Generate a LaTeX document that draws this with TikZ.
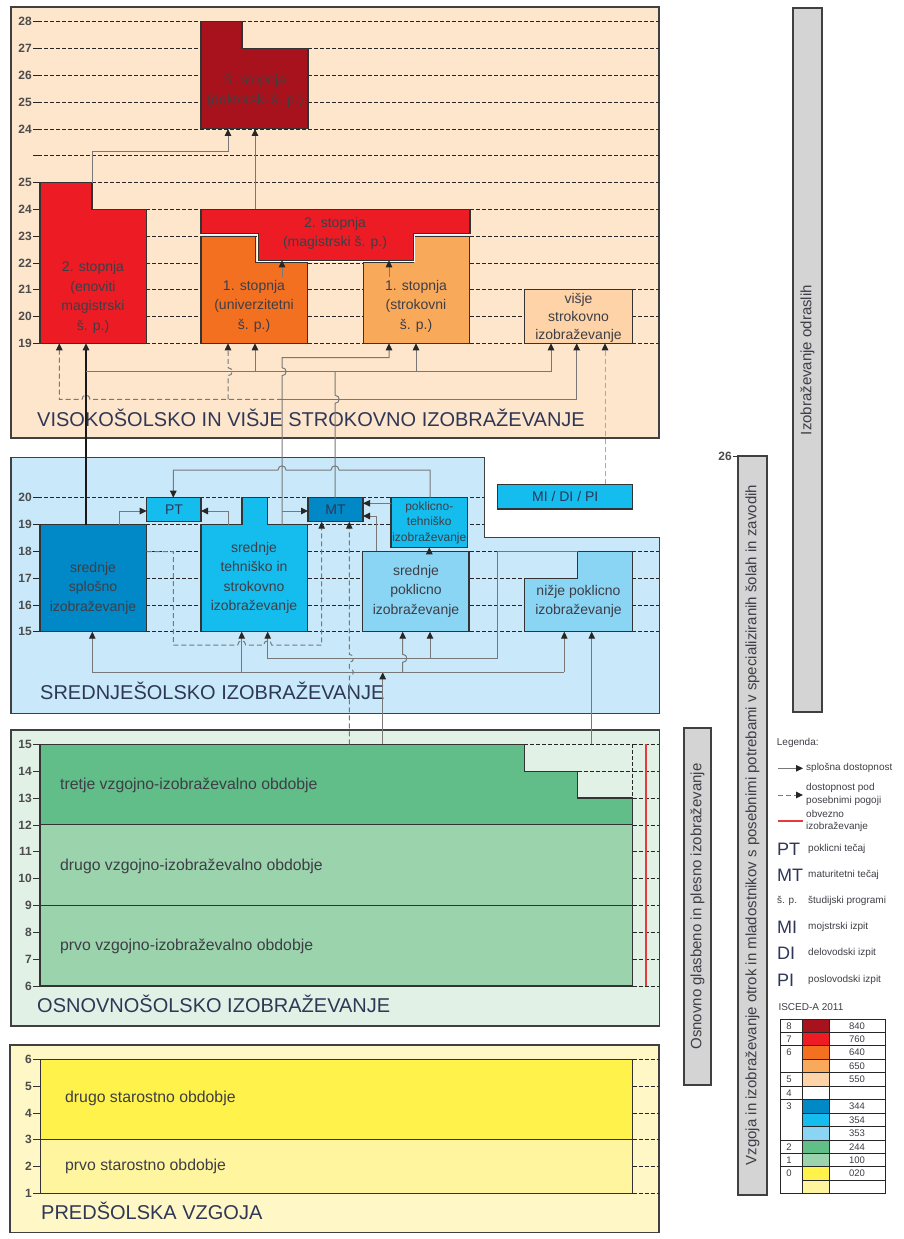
\documentclass[tikz,border=0pt]{standalone}
\usepackage{fontspec}
\setmainfont{Liberation Sans}
\usetikzlibrary{arrows.meta}
\definecolor{hiP}{HTML}{FDE6CC}
\definecolor{secP}{HTML}{C9E9FA}
\definecolor{priP}{HTML}{E2F1E6}
\definecolor{preP}{HTML}{FFF8C6}
\definecolor{c840}{HTML}{A8121C}
\definecolor{c760}{HTML}{ED1C24}
\definecolor{c640}{HTML}{F37021}
\definecolor{c650}{HTML}{F9A95A}
\definecolor{c550}{HTML}{FDD3A7}
\definecolor{c344}{HTML}{0088C7}
\definecolor{c354}{HTML}{14BDEE}
\definecolor{c353}{HTML}{8AD4F4}
\definecolor{c244}{HTML}{62BE89}
\definecolor{c100}{HTML}{9AD3AC}
\definecolor{c020}{HTML}{FFF24B}
\definecolor{preL}{HTML}{FFF59E}
\definecolor{barG}{HTML}{D4D4D4}
\definecolor{lineg}{HTML}{787878}
\definecolor{lineL}{HTML}{A8A8A8}
\definecolor{txt}{HTML}{3E3E46}
\definecolor{ttl}{HTML}{2E3756}
\definecolor{redl}{HTML}{E63A3F}
\begin{document}
\begin{tikzpicture}[x=1pt,y=-1pt,
  panel/.style={draw=black!75,line width=1.1pt},
  box/.style={draw=black!80,line width=1.1pt},
  grid/.style={draw=black!85,line width=0.8pt,dash pattern=on 4pt off 2pt},
  conn/.style={draw=lineg,line width=1pt},
  dconn/.style={draw=lineg,line width=1pt,dash pattern=on 5pt off 3pt},
  blk/.style={draw=black!90,line width=1.1pt},
  arr/.style={-{Triangle[length=7pt,width=6.5pt,color=black!85]}},
  lbl/.style={font=\fontsize{14}{19.5}\selectfont,text=txt,align=center,inner sep=0pt},
  slbl/.style={font=\fontsize{12}{15.5}\selectfont,text=txt,align=center,inner sep=0pt},
  wlbl/.style={font=\fontsize{15.8}{18}\selectfont,text=txt,anchor=west,inner sep=0pt},
  ttlstyle/.style={font=\fontsize{20}{20}\selectfont,text=ttl,anchor=base west,inner sep=0pt},
  num/.style={font=\fontsize{12}{12}\selectfont\bfseries,text=black!70,anchor=east,inner sep=1pt},
  barstyle/.style={draw=black!75,line width=1.1pt,fill=barG},
  bartext/.style={font=\fontsize{15}{16}\selectfont,text=txt,rotate=90,inner sep=0pt},
  leg/.style={font=\fontsize{10}{12.7}\selectfont,text=txt,anchor=west,inner sep=0pt,align=left},
  legbig/.style={font=\fontsize{18}{18}\selectfont,text=ttl,anchor=west,inner sep=0pt},
  tbl/.style={draw=black!85,line width=1pt},
  tnum/.style={font=\fontsize{9.5}{9.5}\selectfont,text=txt,inner sep=0pt},
  vj/.style 2 args={insert path={-- (#1,#2+4) .. controls +(5.5,0) and +(5.5,0) .. (#1,#2-4)}},
  hj/.style 2 args={insert path={-- (#1-4,#2) .. controls +(0,-5.5) and +(0,-5.5) .. (#1+4,#2)}},
  hjl/.style 2 args={insert path={-- (#1+4,#2) .. controls +(0,-5.5) and +(0,-5.5) .. (#1-4,#2)}}
]
\useasboundingbox (0,0) rectangle (904,1239);
\fill[white] (0,0) rectangle (904,1239);

%================ HIGHER EDUCATION PANEL =================
\draw[panel,fill=hiP] (11,7) rectangle (659,438);
\foreach \y/\t in {21.7/28,48.5/27,75.3/26,102.1/25,128.9/24,155.7/{},182.5/25,209.3/24,236.1/23,262.9/22,289.7/21,316.5/20,343.3/19}{
  \draw[black!85,line width=0.8pt] (33,\y) -- (38,\y);
  \draw[grid] (38,\y) -- (659,\y);
  \node[num] at (33,\y) {\t};
}
% doctoral
\draw[box,fill=c840] (201,21.7) -- (242,21.7) -- (242,48.5) -- (308,48.5) -- (308,128.9) -- (201,128.9) -- cycle;
\node[lbl,text=black!75] (phd) at (255,91) {3. stopnja\\(doktorski š. p.)};
% enoviti
\draw[box,fill=c760] (40,182.5) -- (92,182.5) -- (92,209.3) -- (146.7,209.3) -- (146.7,343.3) -- (40,343.3) -- cycle;
\node[lbl] (enov) at (93,297.5) {2. stopnja\\(enoviti\\magistrski\\š. p.)};
% univerzitetni
\draw[box,fill=c640] (201,236.1) -- (255.3,236.1) -- (255.3,262.9) -- (307.7,262.9) -- (307.7,343.3) -- (201,343.3) -- cycle;
\node[lbl] (univ) at (254,306) {1. stopnja\\(univerzitetni\\š. p.)};
% strokovni
\draw[box,fill=c650] (363.3,262.9) -- (413.3,262.9) -- (413.3,236.1) -- (469.3,236.1) -- (469.3,343.3) -- (363.3,343.3) -- cycle;
\node[lbl] (strok) at (416,306) {1. stopnja\\(strokovni\\š. p.)};
% magistrski
\draw[white,line width=2.6pt] (201,233.3) -- (258.3,233.3) -- (258.3,260.3) -- (413.3,260.3) -- (413.3,233.3) -- (470,233.3);
\draw[box,fill=c760] (201,209.3) -- (470,209.3) -- (470,233.3) -- (413.3,233.3) -- (413.3,260.3) -- (258.3,260.3) -- (258.3,233.3) -- (201,233.3) -- cycle;
\node[lbl] (mag) at (335,233.5) {2. stopnja\\(magistrski š. p.)};
% visje
\draw[box,fill=c550] (524.3,289.7) rectangle (632.7,343.3);
\node[lbl,font=\fontsize{14}{18}\selectfont] (visje) at (578.5,318) {višje\\strokovno\\izobraževanje};
\node[ttlstyle] (titleH) at (37,426) {VISOKOŠOLSKO IN VIŠJE STROKOVNO IZOBRAŽEVANJE};

%================ SECONDARY PANEL =================
\draw[panel,fill=secP] (11,457.3) -- (484.3,457.3) -- (484.3,537.7) -- (659.3,537.7) -- (659.3,713.3) -- (11,713.3) -- cycle;
\foreach \y/\t in {497.7/20,524.5/19}{
  \draw[black!85,line width=0.8pt] (33,\y) -- (38,\y);
  \draw[grid] (38,\y) -- (484.3,\y);
  \node[num] at (33,\y) {\t};
}
\foreach \y/\t in {551.3/18,578.1/17,604.9/16,631.7/15}{
  \draw[black!85,line width=0.8pt] (33,\y) -- (38,\y);
  \draw[grid] (38,\y) -- (659.3,\y);
  \node[num] at (33,\y) {\t};
}
% boxes
\draw[box,fill=c344] (40,524.5) rectangle (146.7,631.7);
\node[lbl] (splosno) at (93,588) {srednje\\splošno\\izobraževanje};
\draw[box,fill=c354] (146.7,497.7) rectangle (201,521.7);
\node[lbl,text=ttl] (pt) at (174,509.7) {PT};
\draw[box,fill=c354] (201,524.5) -- (242,524.5) -- (242,497.7) -- (267.7,497.7) -- (267.7,524.5) -- (307.7,524.5) -- (307.7,631.7) -- (201,631.7) -- cycle;
\node[lbl] (tehn) at (254,578) {srednje\\tehniško in\\strokovno\\izobraževanje};
\draw[box,fill=c344] (308,497.7) rectangle (363,521.7);
\node[lbl,text=ttl] (mt) at (335.5,509.7) {MT};
\draw[box,fill=c354] (391,497.7) rectangle (467.7,547.3);
\node[slbl] (pti) at (429.3,522.5) {poklicno-\\tehniško\\izobraževanje};
\draw[box,fill=c353] (362.7,551.3) rectangle (469,631.7);
\node[lbl] (spi) at (416,591) {srednje\\poklicno\\izobraževanje};
\draw[box,fill=c353] (524.3,578.1) -- (577.7,578.1) -- (577.7,551.3) -- (632.7,551.3) -- (632.7,631.7) -- (524.3,631.7) -- cycle;
\node[lbl] (npi) at (578.5,601.5) {nižje poklicno\\izobraževanje};
\draw[box,fill=c354] (497.7,484.3) rectangle (632.7,509);
\node[lbl,text=ttl] (midipi) at (565.2,496.7) {MI / DI / PI};
\node[ttlstyle] (titleS) at (40,699.3) {SREDNJEŠOLSKO IZOBRAŽEVANJE};

%================ PRIMARY PANEL =================
\draw[panel,fill=priP] (11,730) rectangle (659.3,1026);
\fill[c244] (40,744.3) -- (524.3,744.3) -- (524.3,771.2) -- (577.7,771.2) -- (577.7,798) -- (632.7,798) -- (632.7,824.9) -- (40,824.9) -- cycle;
\fill[c100] (40,824.9) rectangle (632.7,986);
\draw[grid] (524.3,744.3) -- (632.7,744.3);
\draw[grid] (577.7,771.2) -- (632.7,771.2);
\draw[grid] (632.7,744.3) -- (632.7,798);
\foreach \y/\t in {744.3/15,771.2/14,798/13,824.9/12,851.7/11,878.6/10,905.4/9,932.3/8,959.1/7,986/6}{
  \draw[black!80,line width=0.8pt] (33,\y) -- (40,\y);
  \draw[grid] (632.7,\y) -- (659.3,\y);
  \node[num] at (33,\y) {\t};
}
\draw[box] (524.3,744.3) -- (40,744.3) -- (40,986) -- (632.7,986) -- (632.7,798) -- (577.7,798) -- (577.7,771.2) -- (524.3,771.2) -- cycle;
\draw[box] (40,824.9) -- (632.7,824.9);
\draw[box] (40,905.4) -- (632.7,905.4);
\draw[redl,line width=1.2pt] (646,744.3) -- (646,986);
\node[wlbl] (tretje) at (60,785) {tretje vzgojno-izobraževalno obdobje};
\node[wlbl] (drugo) at (60,866.7) {drugo vzgojno-izobraževalno obdobje};
\node[wlbl] (prvo) at (60,946.7) {prvo vzgojno-izobraževalno obdobje};
\node[ttlstyle] (titleP) at (37,1012.7) {OSNOVNOŠOLSKO IZOBRAŽEVANJE};

%================ PRESCHOOL PANEL =================
\draw[panel,fill=preP] (10,1045) rectangle (659,1232.7);
\fill[c020] (40.3,1059.3) rectangle (632.7,1139.7);
\fill[preL] (40.3,1139.7) rectangle (632.7,1193.3);
\foreach \y/\t in {1059.3/6,1086.1/5,1112.9/4,1139.7/3,1166.5/2,1193.3/1}{
  \draw[black!80,line width=0.8pt] (33,\y) -- (40.3,\y);
  \draw[grid] (632.7,\y) -- (659,\y);
  \node[num] at (33,\y) {\t};
}
\draw[box] (40.3,1059.3) rectangle (632.7,1193.3);
\draw[box] (40.3,1139.7) -- (632.7,1139.7);
\node[wlbl] (drugost) at (65,1098.3) {drugo starostno obdobje};
\node[wlbl] (prvost) at (65,1166.7) {prvo starostno obdobje};
\node[ttlstyle] (titleV) at (41,1219.3) {PREDŠOLSKA VZGOJA};

%================ CONNECTORS =================
% to doctoral
\draw[conn,arr] (92,182.5) -- (92,151) -- (228,151) -- (228,128.9);
\draw[conn,arr] (255,209.3) -- (255,128.9);
% 1st to 2nd cycle
\draw[conn,arr] (282,277) -- (282,260.3);
\draw[conn,arr] (389,277) -- (389,260.3);
% gimnazija line
\draw[blk,arr] (86,524.5) -- (86,343.3);
\draw[conn,arr] (86,371.7) -- (551,371.7) -- (551,343.3);
\draw[conn,arr] (255,371.7) -- (255,343.3);
\draw[conn,arr] (416,371.7) -- (416,343.3);
% MT up
\draw[conn] (335,497.7) [vj={335}{399.3}] -- (335,371.7);
% technical line
\draw[conn,arr] (282,524.5) [vj={282}{371.7}] -- (282,357.7) -- (389,357.7) -- (389,343.3);
\draw[conn,arr] (282,511) -- (308,511);
\draw[conn,arr] (282,399.3) -- (576.7,399.3) -- (576.7,343.3);
\draw[dconn,arr] (282,399.3) [hjl={86}{399.3}] -- (59.3,399.3) -- (59.3,343.3);
\draw[dconn,arr] (228,399.3) [vj={228}{371.7}] -- (228,343.3);
% MI/DI/PI
\draw[draw=lineL,line width=1pt,dash pattern=on 5pt off 3pt,arr] (605,484.3) -- (605,343.3);
% secondary internal
\draw[conn,arr] (119,524.5) -- (119,511) -- (146.7,511);
\draw[conn,arr] (228,524.5) -- (228,511) -- (201,511);
\draw[conn,arr] (430,497.7) -- (430,470) [hjl={335}{470}] [hjl={282}{470}] -- (173.3,470) -- (173.3,497.7);
\draw[conn,arr] (391,503.3) -- (363,503.3);
\draw[conn,arr] (376,551.3) -- (376,516) -- (363,516);
\draw[conn,arr] (429.3,551.3) -- (429.3,547.3);
\draw[dconn,arr] (146.7,551.7) -- (173.3,551.7) -- (173.3,645) [hj={241.7}{645}] [hj={267.7}{645}] -- (321.7,645) -- (321.7,521.7);
% from primary
\draw[conn,arr] (382.7,744.3) -- (382.7,672.3);
\draw[conn] (92.3,672.3) -- (564.3,672.3);
\draw[conn,arr] (92.3,672.3) -- (92.3,631.7);
\draw[conn,arr] (241.7,672.3) -- (241.7,631.7);
\draw[conn,arr] (402.7,672.3) [vj={402.7}{658.3}] -- (402.7,631.7);
\draw[conn,arr] (564.3,672.3) -- (564.3,631.7);
\draw[conn,arr] (577.7,551.3) -- (497.7,551.3) -- (497.7,658.3) -- (267.7,658.3) -- (267.7,631.7);
\draw[conn,arr] (430,658.3) -- (430,631.7);
\draw[conn,arr] (591.7,744.3) -- (591.7,631.7);
\draw[dconn,arr] (349.3,744.3) [vj={349.3}{672.3}] [vj={349.3}{658.3}] -- (349.3,521.7);

%================ RIGHT BARS =================
\draw[barstyle] (793,8) rectangle (822,712);
\node[bartext] (odrasli) at (807.5,360) {Izobraževanje odraslih};
\draw[barstyle] (738,456) rectangle (767,1195);
\draw[black!80,line width=0.8pt] (733,456) -- (738,456);
\node[num] (n26) at (733,456) {26};
\node[bartext] (posebne) at (752.5,825) {Vzgoja in izobraževanje otrok in mladostnikov s posebnimi potrebami v specializiranih šolah in zavodih};
\draw[barstyle] (684,728) rectangle (711,1085);
\node[bartext] (glasbeno) at (697.5,906.5) {Osnovno glasbeno in plesno izobraževanje};

%================ LEGEND =================
\node[leg] (legenda) at (776.7,743.3) {Legenda:};
\draw[conn,arr] (778,768.3) -- (803,768.3);
\node[leg] (l1) at (806,768.3) {splošna dostopnost};
\draw[dconn,arr] (778,795) -- (803,795);
\node[leg] (l2) at (806,794.7) {dostopnost pod\\posebnimi pogoji};
\draw[redl,line width=1.2pt] (778,821) -- (803,821);
\node[leg] (l3) at (806,821) {obvezno\\izobraževanje};
\node[legbig] (lpt) at (777,849.3) {PT};
\node[leg] (l4) at (808,849.3) {poklicni tečaj};
\node[legbig] (lmt) at (777,875) {MT};
\node[leg] (l5) at (808,875) {maturitetni tečaj};
\node[leg] (lsp) at (777,900.7) {š. p.};
\node[leg] (l6) at (808,900.7) {študijski programi};
\node[legbig] (lmi) at (777,927.3) {MI};
\node[leg] (l7) at (808,927.3) {mojstrski izpit};
\node[legbig] (ldi) at (777,953.3) {DI};
\node[leg] (l8) at (808,953.3) {delovodski izpit};
\node[legbig] (lpi) at (777,980) {PI};
\node[leg] (l9) at (808,980) {poslovodski izpit};

% ISCED table
\node[leg] (isced) at (778.3,1006.7) {ISCED-A 2011};
\foreach \i/\col/\code in {1/c840/840,2/c760/760,3/c640/640,4/c650/650,5/c550/550,6/white/{},7/c344/344,8/c354/354,9/c353/353,10/c244/244,11/c100/100,12/c020/020,13/preL/{}}{
  \fill[\col] (802.3,{1019+13.45*(\i-1)}) rectangle (829.3,{1019+13.45*\i});
  \node[tnum] at (857,{1019+13.45*(\i-0.5)}) {\code};
}
\foreach \i/\l in {1/8,2/7,3/6,5/5,6/4,7/3,10/2,11/1,12/0}{
  \node[tnum] at (789,{1019+13.45*(\i-0.5)}) {\l};
}
\foreach \i in {1,...,12}{
  \draw[tbl] (802.3,{1019+13.45*\i}) -- (885,{1019+13.45*\i});
}
\foreach \i in {1,2,4,5,6,9,10,11}{
  \draw[tbl] (780.7,{1019+13.45*\i}) -- (802.3,{1019+13.45*\i});
}
\draw[tbl] (780.7,1019) rectangle (885,1193.85);
\draw[tbl] (802.3,1019) -- (802.3,1193.85);
\draw[tbl] (829.3,1019) -- (829.3,1193.85);
\end{tikzpicture}
\end{document}
